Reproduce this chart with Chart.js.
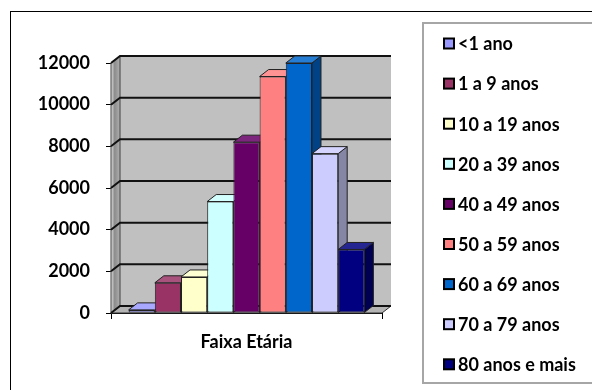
<!DOCTYPE html>
<html>
<head>
<meta charset="utf-8">
<script src="https://cdn.jsdelivr.net/npm/chart.js@4"></script>
<style>
  body { margin: 0; background: #fff; }
  #wrap { width: 592px; height: 390px; }
</style>
</head>
<body>
<div id="wrap"><canvas id="chart" width="592" height="390"></canvas></div>
<script>
const categories = ["Faixa Etária"];
const seriesNames = ["<1 ano", "1 a 9 anos", "10 a 19 anos", "20 a 39 anos", "40 a 49 anos",
  "50 a 59 anos", "60 a 69 anos", "70 a 79 anos", "80 anos e mais"];
const seriesValues = [150, 1450, 1730, 5350, 8200, 11350, 12000, 7650, 3050];
const seriesColors = ["#9999ff", "#993366", "#ffffcc", "#ccffff", "#660066",
  "#ff8080", "#0066cc", "#ccccff", "#000080"];
const yTicks = [0, 2000, 4000, 6000, 8000, 10000, 12000];

const FONT = { family: "Lato", weight: "bold", size: 18 };
const depth = { x: 9, y: 7 };

function shade(hex, f) {
  const n = parseInt(hex.slice(1), 16);
  let r = (n >> 16) & 255, g = (n >> 8) & 255, b = n & 255;
  if (f <= 1) { r *= f; g *= f; b *= f; }
  else { const t = f - 1; r += (255 - r) * t; g += (255 - g) * t; b += (255 - b) * t; }
  return `rgb(${Math.round(r)},${Math.round(g)},${Math.round(b)})`;
}

function poly(ctx, pts, fill, stroke) {
  ctx.beginPath();
  ctx.moveTo(pts[0][0], pts[0][1]);
  for (let i = 1; i < pts.length; i++) ctx.lineTo(pts[i][0], pts[i][1]);
  ctx.closePath();
  if (fill) { ctx.fillStyle = fill; ctx.fill(); }
  if (stroke) { ctx.strokeStyle = stroke; ctx.stroke(); }
}

// walls, floor, gridlines and the 3d sides of the bars
const walls3d = {
  id: "walls3d",
  beforeDatasetsDraw(chart) {
    const { ctx, chartArea: a, scales } = chart;
    const dx = depth.x, dy = depth.y;
    ctx.save();
    ctx.lineWidth = 1;

    // back wall
    ctx.fillStyle = "#c0c0c0";
    ctx.fillRect(a.left + dx, a.top - dy, a.right - a.left, a.bottom - a.top);

    // left side wall
    const grd = ctx.createLinearGradient(a.left, 0, a.left + dx, 0);
    grd.addColorStop(0, "#e0e0e0");
    grd.addColorStop(0.4, "#8c8c8c");
    grd.addColorStop(1, "#b0b0b0");
    poly(ctx, [[a.left, a.top], [a.left + dx, a.top - dy], [a.left + dx, a.bottom - dy], [a.left, a.bottom]], grd, "#404040");

    // floor
    poly(ctx, [[a.left, a.bottom], [a.right, a.bottom], [a.right + dx, a.bottom - dy], [a.left + dx, a.bottom - dy]], "#b4b4b4", "#303030");

    // gridlines on the walls
    ctx.strokeStyle = "#111";
    ctx.lineWidth = 2;
    scales.y.ticks.forEach(t => {
      const py = scales.y.getPixelForValue(t.value);
      ctx.beginPath();
      ctx.moveTo(a.left, py);
      ctx.lineTo(a.left + dx, py - dy);
      ctx.lineTo(a.right + dx, py - dy);
      ctx.stroke();
    });

    // side and top faces of bars
    ctx.lineWidth = 1;
    chart.data.datasets.forEach((ds, i) => {
      const meta = chart.getDatasetMeta(i);
      meta.data.forEach(bar => {
        const p = bar.getProps(["x", "y", "base", "width"], true);
        const l = p.x - p.width / 2, r = p.x + p.width / 2;
        const col = ds.backgroundColor;
        poly(ctx, [[r, p.y], [r + dx, p.y - dy], [r + dx, p.base - dy], [r, p.base]], shade(col, 0.65), "#222");
        poly(ctx, [[l, p.y], [r, p.y], [r + dx, p.y - dy], [l + dx, p.y - dy]], shade(col, 1.15), "#222");
      });
    });
    ctx.restore();
  },
  afterDraw(chart) {
    const ctx = chart.ctx;
    ctx.save();
    // outer frame
    ctx.strokeStyle = "#000";
    ctx.lineWidth = 1;
    ctx.strokeRect(10.5, 11.5, 700, 500);
    // legend box
    ctx.strokeStyle = "#a6a6a6";
    ctx.lineWidth = 2;
    ctx.strokeRect(423, 23, 200, 360);
    // legend items
    ctx.font = `${FONT.weight} ${FONT.size}px ${FONT.family}`;
    ctx.textBaseline = "middle";
    ctx.textAlign = "left";
    chart.data.datasets.forEach((ds, i) => {
      const cy = 43.5 + i * 40.1;
      ctx.fillStyle = ds.backgroundColor;
      ctx.fillRect(444, cy - 5, 10, 10);
      ctx.strokeStyle = "#000";
      ctx.lineWidth = 2;
      ctx.strokeRect(444, cy - 5, 10, 10);
      ctx.fillStyle = "#000";
      ctx.fillText(ds.label, 458, cy + 1);
    });
    ctx.restore();
  }
};

const datasets = seriesNames.map((name, i) => ({
  label: name,
  data: [seriesValues[i]],
  backgroundColor: seriesColors[i],
  borderColor: "#222",
  borderWidth: 1,
  borderSkipped: false
}));

new Chart(document.getElementById("chart"), {
  type: "bar",
  data: { labels: categories, datasets },
  options: {
    responsive: false,
    animation: false,
    devicePixelRatio: 1,
    layout: { padding: { top: 63, right: 210, bottom: 0, left: 0 } },
    categoryPercentage: 0.87,
    barPercentage: 1,
    plugins: { legend: { display: false }, tooltip: { enabled: false } },
    scales: {
      x: {
        offset: true,
        grid: { offset: true, drawOnChartArea: false, tickLength: 6, color: "#000" },
        border: { color: "#000" },
        ticks: { font: FONT, color: "#000", padding: 12 },
        afterFit: s => { s.height = 77; }
      },
      y: {
        min: 0,
        max: yTicks[yTicks.length - 1],
        afterBuildTicks: s => { s.ticks = yTicks.map(v => ({ value: v })); },
        grid: { drawOnChartArea: false, tickLength: 5, color: "#000" },
        border: { color: "#404040" },
        ticks: { font: FONT, color: "#000", padding: 16, callback: v => String(v) },
        afterFit: s => { s.width = 111; }
      }
    }
  },
  plugins: [walls3d]
});
</script>
</body>
</html>
